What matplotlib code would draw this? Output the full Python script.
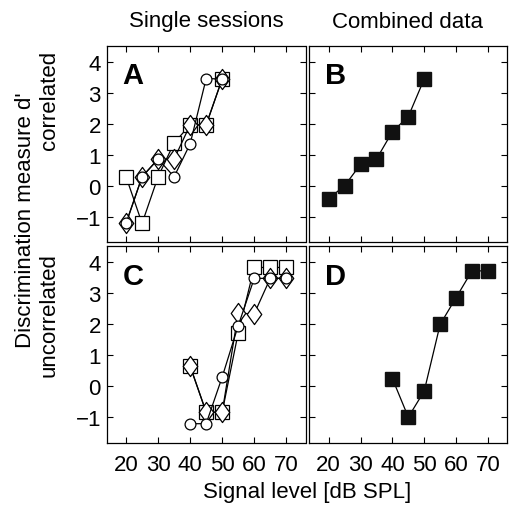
import numpy as np
import matplotlib
matplotlib.use('Agg')
import matplotlib.pyplot as plt
from matplotlib.path import Path

plt.rcParams['font.family'] = ['Liberation Sans', 'DejaVu Sans']

# signal levels (dB SPL)
levels_ab = [20, 25, 30, 35, 40, 45, 50]
levels_cd = [40, 45, 50, 55, 60, 65, 70]

# panel A - single sessions, correlated
a_square = [0.29, -1.21, 0.29, 1.38, 1.96, 1.96, 3.44]
a_diamond = [-1.21, 0.29, 0.86, 0.86, 1.96, 1.96, 3.44]
a_circle = [-1.21, 0.29, 0.86, 0.29, 1.35, 3.45, 3.44]

# panel B - combined, correlated
b_combined = [-0.41, 0.0, 0.69, 0.86, 1.74, 2.23, 3.44]

# panel C - single sessions, uncorrelated
c_square = [0.65, -0.83, -0.83, 1.72, 3.82, 3.82, 3.82]
c_diamond = [0.65, -0.83, -0.83, 2.35, 2.33, 3.47, 3.47]
c_circle = [-1.2, -1.2, 0.3, 1.95, 3.47, 3.47, 3.47]

# panel D - combined, uncorrelated
d_combined = [0.25, -0.99, -0.15, 1.99, 2.85, 3.71, 3.71]

xticks = [20, 30, 40, 50, 60, 70]
yticks = [-1, 0, 1, 2, 3, 4]

# tall diamond marker
tall_diamond = Path([(0, 1), (0.72, 0), (0, -1), (-0.72, 0), (0, 1)],
                    [Path.MOVETO, Path.LINETO, Path.LINETO, Path.LINETO, Path.CLOSEPOLY])

fig = plt.figure(figsize=(5.12, 5.10), dpi=100)
W, H = 512, 510


def make_ax(l, t, r, b):
    return fig.add_axes([l / W, 1 - b / H, (r - l) / W, (b - t) / H])


axA = make_ax(106.5, 47, 305.5, 243.3)
axB = make_ax(309.3, 47, 507, 243.3)
axC = make_ax(106.5, 247.3, 305.5, 444)
axD = make_ax(309.3, 247.3, 507, 444)

lw = 0.9
open_kw = dict(color='black', lw=lw, mfc='white', mec='black', mew=0.9)


def single(ax, x, sq, di, ci):
    ax.plot(x, sq, marker='s', ms=9.6, **open_kw)
    ax.plot(x, di, marker=tall_diamond, ms=14.5, **open_kw)
    ax.plot(x, ci, marker='o', ms=7.8, **open_kw)


single(axA, levels_ab, a_square, a_diamond, a_circle)
single(axC, levels_cd, c_square, c_diamond, c_circle)

filled_kw = dict(color='black', lw=lw, marker='s', ms=9.6, mfc='#111111', mec='#111111')
axB.plot(levels_ab, b_combined, **filled_kw)
axD.plot(levels_cd, d_combined, **filled_kw)

for ax, letter in zip([axA, axB, axC, axD], 'ABCD'):
    ax.set_xlim(13.9, 76)
    ax.set_ylim(-1.82, 4.5)
    ax.set_xticks(xticks)
    ax.set_yticks(yticks)
    ax.tick_params(direction='in', top=True, right=True, length=4, width=0.8,
                   labelsize=16)
    ax.tick_params(axis='x', pad=8)
    ax.tick_params(axis='y', pad=4)
    ax.set_yticklabels(['\u22121', '0', '1', '2', '3', '4'])
    for s in ax.spines.values():
        s.set_linewidth(0.9)
    ax.text(0.08, 0.85, letter, transform=ax.transAxes, fontsize=21,
            fontweight='bold', va='center', ha='left')

for ax in [axA, axB]:
    ax.tick_params(labelbottom=False)
for ax in [axB, axD]:
    ax.tick_params(labelleft=False)

fig.text(206 / W, 1 - 22 / H, 'Single sessions', ha='center', va='center', fontsize=16)
fig.text(408 / W, 1 - 22 / H, 'Combined data', ha='center', va='center', fontsize=16)
fig.text(307 / W, 1 - 493 / H, 'Signal level [dB SPL]', ha='center', va='center', fontsize=16)
fig.text(26 / W, 1 - 220 / H, "Discrimination measure d'", rotation=90,
         ha='center', va='center', fontsize=16)
fig.text(49 / W, 1 - 100 / H, 'correlated', rotation=90,
         ha='center', va='center', fontsize=16)
fig.text(49 / W, 1 - 315 / H, 'uncorrelated', rotation=90,
         ha='center', va='center', fontsize=16)

fig.savefig('out.png', dpi=100)
